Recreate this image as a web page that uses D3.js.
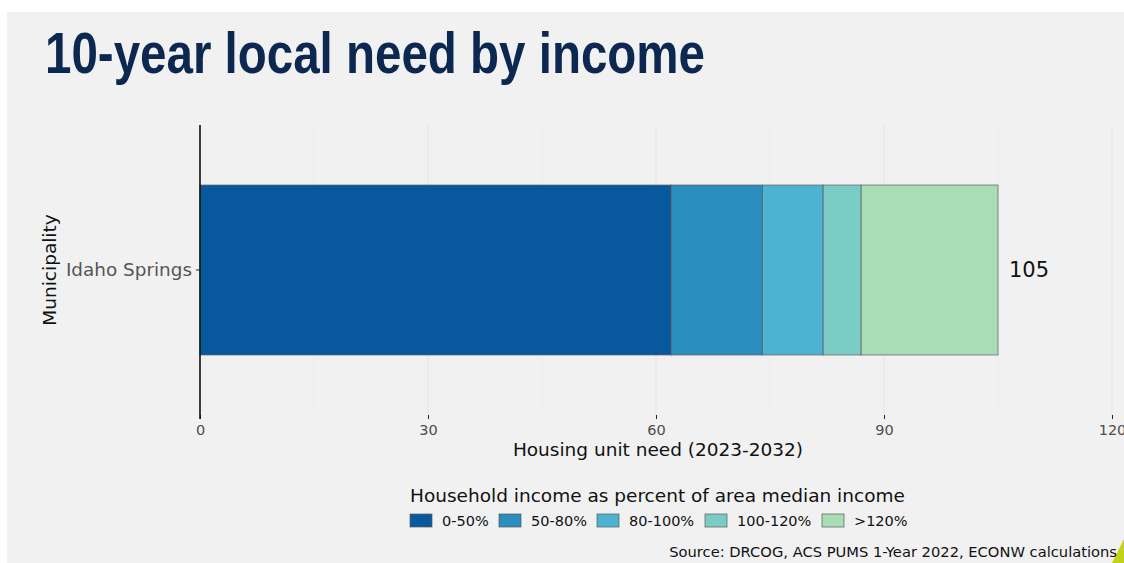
<!DOCTYPE html>
<html>
<head>
<meta charset="utf-8">
<script src="https://cdn.jsdelivr.net/npm/d3@7"></script>
<style>
  body { margin: 0; background: #fff; }
  svg { display: block; }
  text { font-family: "DejaVu Sans", sans-serif; }
</style>
</head>
<body>
<svg id="chart" width="1124" height="563"></svg>
<script>
// data
const municipalities = ["Idaho Springs"];
const incomeGroups = ["0-50%", "50-80%", "80-100%", "100-120%", ">120%"];
const groupColors = ["#08589e", "#2b8cbe", "#4eb3d3", "#7bccc4", "#a8ddb5"];
const needValues = [[62, 12, 8, 5, 18]];
const xTicks = [0, 30, 60, 90, 120];
const xMinor = [15, 45, 75, 105];

const svg = d3.select("#chart");
const W = 1124, H = 563;

// grey slide panel
svg.append("rect").attr("x", 7).attr("y", 12).attr("width", W - 7).attr("height", H - 12).attr("fill", "#f1f1f1");
svg.append("path").attr("d", `M${W - 12},${H} L${W},${H - 24} L${W},${H} Z`).attr("fill", "#c2d21c");

svg.append("text")
  .attr("x", 45).attr("y", 73)
  .style("font-family", "'Liberation Sans Narrow', 'Arial Narrow', sans-serif")
  .attr("font-weight", "bold").attr("font-size", 58)
  .attr("textLength", 660).attr("lengthAdjust", "spacingAndGlyphs")
  .attr("fill", "#0d2850")
  .text("10-year local need by income");

const rows = municipalities.map((m, i) => {
  const r = { name: m };
  incomeGroups.forEach((g, j) => r[g] = needValues[i][j]);
  return r;
});
const series = d3.stack().keys(incomeGroups)(rows);

const pLeft = 200, pRight = 1112, pTop = 125, pBottom = 415;
const x = d3.scaleLinear().domain([0, 120]).range([pLeft, pRight]);
const y = d3.scaleBand().domain(municipalities).range([pTop, pBottom]).paddingInner(0.1).paddingOuter(0.318);
const color = d3.scaleOrdinal().domain(incomeGroups).range(groupColors);

// gridlines
const grid = svg.append("g");
grid.selectAll("line.minor").data(xMinor).join("line").attr("class", "minor")
  .attr("x1", d => x(d)).attr("x2", d => x(d)).attr("y1", pTop).attr("y2", pBottom)
  .attr("stroke", "#ebebeb").attr("stroke-width", 0.6);
grid.selectAll("line.major").data(xTicks).join("line").attr("class", "major")
  .attr("x1", d => x(d)).attr("x2", d => x(d)).attr("y1", pTop).attr("y2", pBottom)
  .attr("stroke", "#e6e6e6").attr("stroke-width", 1.1);

// bars
svg.append("g").selectAll("g").data(series).join("g")
  .attr("fill", d => color(d.key))
  .selectAll("rect").data(d => d).join("rect")
  .attr("x", d => x(d[0])).attr("width", d => x(d[1]) - x(d[0]))
  .attr("y", d => y(d.data.name)).attr("height", y.bandwidth())
  .attr("stroke", "#5a5a5a").attr("stroke-opacity", 0.7).attr("stroke-width", 1);

// total labels
svg.append("g").selectAll("text").data(rows).join("text")
  .attr("x", d => x(d3.sum(incomeGroups, g => d[g])) + 11)
  .attr("y", d => y(d.name) + y.bandwidth() / 2)
  .attr("dy", "0.35em").attr("font-size", 21).attr("fill", "#111")
  .text(d => d3.sum(incomeGroups, g => d[g]));

// x axis
const xAxis = svg.append("g").attr("transform", `translate(0,${pBottom})`)
  .call(d3.axisBottom(x).tickValues(xTicks).tickSize(4).tickPadding(6));
xAxis.select(".domain").remove();
xAxis.selectAll("line").attr("stroke", "#222");
xAxis.selectAll("text").attr("font-size", 14.5).attr("fill", "#4d4d4d").attr("font-family", "DejaVu Sans");

// y axis
const yAxis = svg.append("g").attr("transform", `translate(${pLeft},0)`)
  .call(d3.axisLeft(y).tickSize(4).tickPadding(4));
yAxis.select(".domain").attr("d", `M0,${pTop}V${pBottom + 4}`).attr("stroke", "#111").attr("stroke-width", 1.6);
yAxis.selectAll("line").attr("stroke", "#222");
yAxis.selectAll("text").attr("font-size", 18.4).attr("fill", "#555").attr("font-family", "DejaVu Sans");

svg.append("text").attr("x", x(60) + 2).attr("y", 456).attr("text-anchor", "middle")
  .attr("font-size", 18.5).attr("fill", "#111").text("Housing unit need (2023-2032)");
svg.append("text").attr("transform", `translate(56,${(pTop + pBottom) / 2}) rotate(-90)`)
  .attr("text-anchor", "middle").attr("font-size", 18.5).attr("fill", "#111").text("Municipality");

// legend
const lg = svg.append("g").attr("transform", "translate(410,0)");
lg.append("text").attr("x", 0).attr("y", 502).attr("font-size", 18.5).attr("fill", "#111")
  .text("Household income as percent of area median income");
const keyX = [0, 89, 187, 295, 412];
const items = lg.selectAll("g.item").data(incomeGroups).join("g").attr("class", "item")
  .attr("transform", (d, i) => `translate(${keyX[i]},514)`);
items.append("rect").attr("width", 22).attr("height", 13)
  .attr("fill", d => color(d)).attr("stroke", "#5a5a5a").attr("stroke-opacity", 0.7);
items.append("text").attr("x", 32).attr("y", 7).attr("dy", "0.35em")
  .attr("font-size", 14.5).attr("fill", "#111").text(d => d);

svg.append("text").attr("x", 1117).attr("y", 557).attr("text-anchor", "end")
  .attr("font-size", 14.7).attr("fill", "#111").text("Source: DRCOG, ACS PUMS 1-Year 2022, ECONW calculations");
</script>
</body>
</html>
